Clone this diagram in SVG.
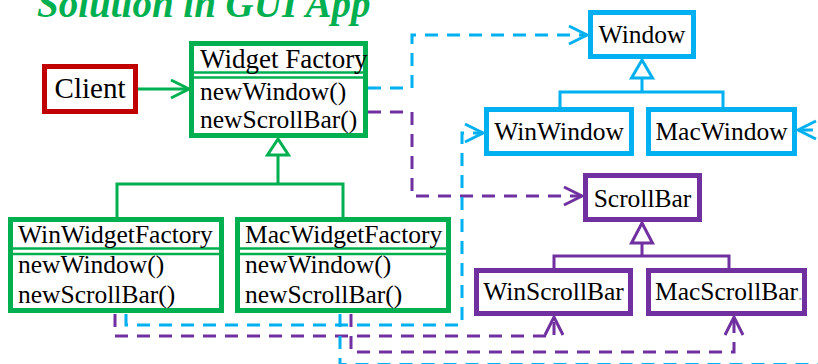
<svg xmlns="http://www.w3.org/2000/svg" width="818" height="364" viewBox="0 0 818 364">
<style>
text{font-family:"Liberation Serif","Times New Roman",serif;font-size:25.5px;fill:#000}
.title{font-size:39px;font-weight:bold;font-style:italic;fill:#00b050}
.box{fill:#fff;stroke-width:5}
.g{stroke:#00b050}.c{stroke:#00b0f0}.p{stroke:#7030a0}.r{stroke:#c00000}
.ln{fill:none;stroke-width:3}
.dash{fill:none;stroke-width:3;stroke-dasharray:13 9}
.tri{fill:#fff;stroke-width:3}
.sep{stroke-width:2.5}
.mid{text-anchor:middle}
</style>
<defs>
<marker id="ag" markerUnits="userSpaceOnUse" markerWidth="24" markerHeight="24" viewBox="-20 -12 24 24" refX="0" refY="0" orient="auto"><path d="M-18,-9 L0,0 L-18,9" fill="none" stroke="#00b050" stroke-width="3"/></marker>
<marker id="ac" markerUnits="userSpaceOnUse" markerWidth="24" markerHeight="24" viewBox="-20 -12 24 24" refX="0" refY="0" orient="auto"><path d="M-18,-9 L0,0 L-18,9" fill="none" stroke="#00b0f0" stroke-width="3"/></marker>
<marker id="ap" markerUnits="userSpaceOnUse" markerWidth="24" markerHeight="24" viewBox="-20 -12 24 24" refX="0" refY="0" orient="auto"><path d="M-18,-9 L0,0 L-18,9" fill="none" stroke="#7030a0" stroke-width="3"/></marker>
</defs>
<text class="title" x="37" y="17">Solution in GUI App</text>
<g id="connectors">
<path class="ln g" d="M138,89 H189" marker-end="url(#ag)"/>
<path class="ln g" d="M278,155 V184 M117,217 V184 H343 V217"/>
<path class="tri g" d="M278,139 L267.5,155 H288.5 Z"/>
<path class="ln c" d="M642,78 V92 M560,107 V92 H723 V107"/>
<path class="tri c" d="M642,60 L631.5,78 H652.5 Z"/>
<path class="ln p" d="M642,243 V256 M554,268 V256 H729 V268"/>
<path class="tri p" d="M642,223 L631.5,243 H652.5 Z"/>
<path class="dash c" d="M368,88 H412 V35 H587" marker-end="url(#ac)"/>
<path class="dash p" d="M368,112 H412 V196 H582" marker-end="url(#ap)"/>
<path class="dash c" d="M126,314 V325 H462 V133 H483" marker-end="url(#ac)"/>
<path class="dash p" d="M115,314 V336 H554 V317" marker-end="url(#ap)"/>
<path class="dash p" d="M351,314 V352 H734 V317" marker-end="url(#ap)"/>
<path class="dash c" d="M340,314 V364.5 H830 V130 H798" marker-end="url(#ac)"/>
</g>
<g id="client">
<rect class="box r" x="44.5" y="66.5" width="91" height="45"/>
<text x="90" y="98" class="mid" style="font-size:29px">Client</text>
</g>
<g id="widget-factory">
<rect class="box g" x="191.5" y="43.5" width="174" height="92"/>
<line class="sep g" x1="192" y1="72.5" x2="366" y2="72.5"/>
<line class="sep g" x1="192" y1="77.5" x2="366" y2="77.5"/>
<text x="200" y="68" style="font-size:27px">Widget Factory</text>
<text x="200" y="100">newWindow()</text>
<text x="200" y="128">newScrollBar()</text>
</g>
<g id="win-widget-factory">
<rect class="box g" x="10.5" y="219.5" width="211" height="91"/>
<line class="sep g" x1="11" y1="248.5" x2="221" y2="248.5"/>
<line class="sep g" x1="11" y1="254" x2="221" y2="254"/>
<text x="18" y="243">WinWidgetFactory</text>
<text x="18" y="273">newWindow()</text>
<text x="18" y="303">newScrollBar()</text>
</g>
<g id="mac-widget-factory">
<rect class="box g" x="237.5" y="219.5" width="211" height="91"/>
<line class="sep g" x1="238" y1="248.5" x2="448" y2="248.5"/>
<line class="sep g" x1="238" y1="254" x2="448" y2="254"/>
<text x="245" y="243">MacWidgetFactory</text>
<text x="245" y="273">newWindow()</text>
<text x="245" y="303">newScrollBar()</text>
</g>
<g id="window">
<rect class="box c" x="590.5" y="12.5" width="103" height="44"/>
<text x="642" y="43" class="mid">Window</text>
</g>
<g id="win-window">
<rect class="box c" x="486.5" y="109.5" width="145" height="44"/>
<text x="559" y="140" class="mid">WinWindow</text>
</g>
<g id="mac-window">
<rect class="box c" x="648.5" y="109.5" width="146" height="44"/>
<text x="721.5" y="140" class="mid">MacWindow</text>
</g>
<g id="scrollbar">
<rect class="box p" x="585.5" y="175.5" width="114" height="44"/>
<text x="642.5" y="207" class="mid">ScrollBar</text>
</g>
<g id="win-scrollbar">
<rect class="box p" x="476.5" y="270.5" width="154" height="43"/>
<text x="553.5" y="300" class="mid">WinScrollBar</text>
</g>
<g id="mac-scrollbar">
<rect class="box p" x="648.5" y="270.5" width="156" height="43"/>
<text x="655" y="300">MacScrollBar<tspan style="fill:#a6a6a6;font-size:18px">.</tspan></text>
</g>
</svg>
